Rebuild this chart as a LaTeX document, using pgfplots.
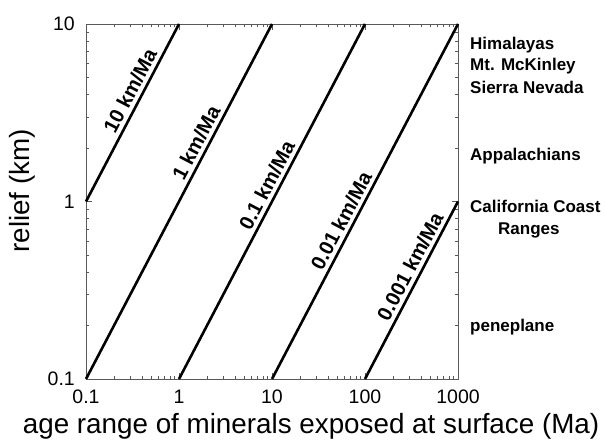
\documentclass[border=0pt]{standalone}
\usepackage{pgfplots}
\pgfplotsset{compat=1.18}
\usepackage{fontspec}
\setmainfont{Liberation Sans}
\begin{document}
\begin{tikzpicture}
\begin{axis}[
  scale only axis,
  width=372pt, height=355pt,
  xmode=log, ymode=log,
  xmin=0.1, xmax=1000, ymin=0.1, ymax=10,
  xtick={0.1,1,10,100,1000}, xticklabels={0.1,1,10,100,1000},
  ytick={0.1,1,10}, yticklabels={0.1,1,10},
  tick align=inside,
  major tick length=6pt, minor tick length=3.5pt,
  axis line style={draw=black!65, line width=0.8pt},
  every tick/.style={black!65, line width=0.6pt},
  tick label style={font=\fontsize{19.5}{19.5}\selectfont},
  xticklabel style={anchor=center, yshift=-18pt},
  yticklabel style={anchor=east, inner sep=0pt, xshift=-11pt},
  xlabel={age range of minerals exposed at surface (Ma)},
  ylabel={relief (km)},
  every axis x label/.style={at={(rel axis cs:0.605,0)}, yshift=-47pt, anchor=center, font=\fontsize{27.8}{27.8}\selectfont},
  every axis y label/.style={at={(rel axis cs:0,0.53)}, xshift=-64pt, rotate=90, anchor=center, font=\fontsize{27.8}{27.8}\selectfont},
  clip=false,
  /pgf/number format/assume math mode=true,
]
\addplot[black, line width=2.6pt] coordinates {(0.1,1) (1,10)}
  node[pos=0.59, sloped, above=0pt, font=\bfseries\fontsize{20.3}{20.3}\selectfont] {10 km/Ma};
\addplot[black, line width=2.6pt] coordinates {(0.1,0.1) (10,10)}
  node[pos=0.65, sloped, above=0pt, font=\bfseries\fontsize{20.3}{20.3}\selectfont] {1 km/Ma};
\addplot[black, line width=2.6pt] coordinates {(1,0.1) (100,10)}
  node[pos=0.53, sloped, above=0pt, font=\bfseries\fontsize{20.3}{20.3}\selectfont] {0.1 km/Ma};
\addplot[black, line width=2.6pt] coordinates {(10,0.1) (1000,10)}
  node[pos=0.43, sloped, above=0pt, font=\bfseries\fontsize{20.3}{20.3}\selectfont] {0.01 km/Ma};
\addplot[black, line width=2.6pt] coordinates {(100,0.1) (1000,1)}
  node[pos=0.60, sloped, above=0pt, font=\bfseries\fontsize{20.3}{20.3}\selectfont] {0.001 km/Ma};
\begin{scope}[every node/.style={anchor=base west, font=\bfseries\fontsize{17}{17}\selectfont, inner sep=0pt}]
\node at (rel axis cs:1,0.946) [xshift=12pt, yshift=-6pt] {Himalayas};
\node at (rel axis cs:1,0.885) [xshift=12pt, yshift=-6pt] {Mt. McKinley};
\node at (rel axis cs:1,0.820) [xshift=12pt, yshift=-6pt] {Sierra Nevada};
\node at (rel axis cs:1,0.631) [xshift=12pt, yshift=-6pt] {Appalachians};
\node at (rel axis cs:1,0.485) [xshift=12pt, yshift=-6pt] {California Coast};
\node at (rel axis cs:1,0.423) [xshift=40pt, yshift=-6pt] {Ranges};
\node at (rel axis cs:1,0.152) [xshift=12pt, yshift=-6pt] {peneplane};
\end{scope}
\path (rel axis cs:0,0) ++(-86pt,-65pt) rectangle ++(605pt,444pt);
\end{axis}
\end{tikzpicture}
\end{document}
